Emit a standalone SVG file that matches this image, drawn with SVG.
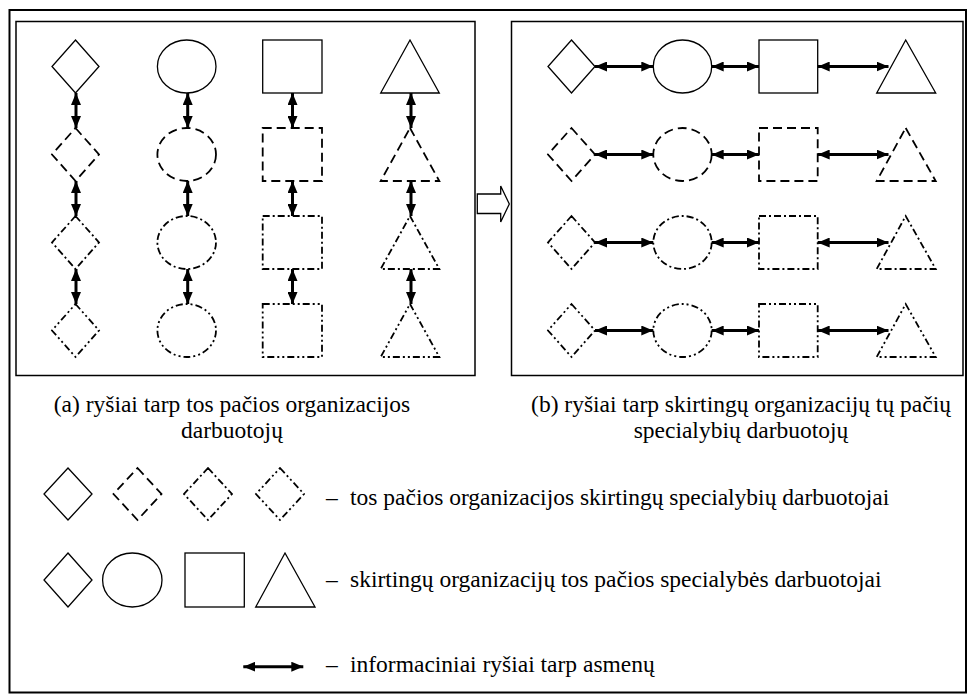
<svg xmlns="http://www.w3.org/2000/svg" width="972" height="696" viewBox="0 0 972 696">
<defs>
<style>
.outer{fill:none;stroke:#000;stroke-width:2}
.frame{fill:none;stroke:#000;stroke-width:1.5}
.s{fill:#fff;stroke:#000;stroke-width:1.3}
.d2{stroke-width:1.8;stroke-dasharray:9 5}
.d3{stroke-width:1.8;stroke-dasharray:7 3 2 3}
.d4{stroke-width:1.8;stroke-dasharray:7 3 2 3 2 3}
.c{stroke:#000;stroke-width:3;fill:none;marker-start:url(#ah);marker-end:url(#ah)}
.big{fill:#fff;stroke:#000;stroke-width:1.3}
text{font-family:"Liberation Serif","Times New Roman",serif;font-size:23.5px;fill:#000}
</style>
<marker id="ah" markerUnits="userSpaceOnUse" markerWidth="12" markerHeight="10" refX="12" refY="5" orient="auto-start-reverse" viewBox="0 0 12 10"><path d="M0,0 L12,5 L0,10 z" fill="#000"/></marker>
</defs>
<rect width="972" height="696" fill="#fff"/>
<rect class="outer" x="9.5" y="10" width="956.5" height="682.5"/>
<rect id="panel-a" class="frame" x="16" y="21.5" width="459" height="354"/>
<rect id="panel-b" class="frame" x="511.5" y="21.5" width="451.5" height="354"/>

<g id="transition-arrow"><polygon class="big" points="477.3,194 500.7,194 500.7,186 509.3,204 500.7,222 500.7,213.5 477.3,213.5"/></g>

<!-- Panel A nodes -->
<g id="a-diamond-1"><polygon class="s" points="75.5,40 99,66.5 75.5,93 52,66.5"/></g>
<g id="a-diamond-2"><polygon class="s d2" points="75.5,128 99,154.5 75.5,181 52,154.5"/></g>
<g id="a-diamond-3"><polygon class="s d3" points="75.5,216 99,242.5 75.5,269 52,242.5"/></g>
<g id="a-diamond-4"><polygon class="s d4" points="75.5,304 99,330.5 75.5,357 52,330.5"/></g>
<g id="a-ellipse-1"><ellipse class="s" cx="186.7" cy="66.5" rx="29.3" ry="26.5"/></g>
<g id="a-ellipse-2"><ellipse class="s d2" cx="186.7" cy="154.5" rx="29.3" ry="26.5"/></g>
<g id="a-ellipse-3"><ellipse class="s d3" cx="186.7" cy="242.5" rx="29.3" ry="26.5"/></g>
<g id="a-ellipse-4"><ellipse class="s d4" cx="186.7" cy="330.5" rx="29.3" ry="26.5"/></g>
<g id="a-square-1"><rect class="s" x="262.7" y="40" width="59.3" height="53"/></g>
<g id="a-square-2"><rect class="s d2" x="262.7" y="128" width="59.3" height="53"/></g>
<g id="a-square-3"><rect class="s d3" x="262.7" y="216" width="59.3" height="53"/></g>
<g id="a-square-4"><rect class="s d4" x="262.7" y="304" width="59.3" height="53"/></g>
<g id="a-triangle-1"><polygon class="s" points="410,40 439.3,93 380.7,93"/></g>
<g id="a-triangle-2"><polygon class="s d2" points="410,128 439.3,181 380.7,181"/></g>
<g id="a-triangle-3"><polygon class="s d3" points="410,216 439.3,269 380.7,269"/></g>
<g id="a-triangle-4"><polygon class="s d4" points="410,304 439.3,357 380.7,357"/></g>

<!-- Panel B nodes -->
<g id="b-diamond-1"><polygon class="s" points="571.5,40 595,66.5 571.5,93 548,66.5"/></g>
<g id="b-diamond-2"><polygon class="s d2" points="571.5,128 595,154.5 571.5,181 548,154.5"/></g>
<g id="b-diamond-3"><polygon class="s d3" points="571.5,216 595,242.5 571.5,269 548,242.5"/></g>
<g id="b-diamond-4"><polygon class="s d4" points="571.5,304 595,330.5 571.5,357 548,330.5"/></g>
<g id="b-ellipse-1"><ellipse class="s" cx="682.5" cy="66.5" rx="29.2" ry="26.5"/></g>
<g id="b-ellipse-2"><ellipse class="s d2" cx="682.5" cy="154.5" rx="29.2" ry="26.5"/></g>
<g id="b-ellipse-3"><ellipse class="s d3" cx="682.5" cy="242.5" rx="29.2" ry="26.5"/></g>
<g id="b-ellipse-4"><ellipse class="s d4" cx="682.5" cy="330.5" rx="29.2" ry="26.5"/></g>
<g id="b-square-1"><rect class="s" x="759" y="40" width="58.7" height="53"/></g>
<g id="b-square-2"><rect class="s d2" x="759" y="128" width="58.7" height="53"/></g>
<g id="b-square-3"><rect class="s d3" x="759" y="216" width="58.7" height="53"/></g>
<g id="b-square-4"><rect class="s d4" x="759" y="304" width="58.7" height="53"/></g>
<g id="b-triangle-1"><polygon class="s" points="905.7,40 935.7,93 876.7,93"/></g>
<g id="b-triangle-2"><polygon class="s d2" points="905.7,128 935.7,181 876.7,181"/></g>
<g id="b-triangle-3"><polygon class="s d3" points="905.7,216 935.7,269 876.7,269"/></g>
<g id="b-triangle-4"><polygon class="s d4" points="905.7,304 935.7,357 876.7,357"/></g>

<!-- Connectors -->
<g id="connectors">
<line class="c" x1="76" y1="93" x2="76" y2="128"/>
<line class="c" x1="76" y1="181" x2="76" y2="216"/>
<line class="c" x1="76" y1="269" x2="76" y2="304"/>
<line class="c" x1="187.7" y1="93" x2="187.7" y2="128"/>
<line class="c" x1="187.7" y1="181" x2="187.7" y2="216"/>
<line class="c" x1="187.7" y1="269" x2="187.7" y2="304"/>
<line class="c" x1="292.5" y1="93" x2="292.5" y2="128"/>
<line class="c" x1="292.5" y1="181" x2="292.5" y2="216"/>
<line class="c" x1="292.5" y1="269" x2="292.5" y2="304"/>
<line class="c" x1="411" y1="93" x2="411" y2="128"/>
<line class="c" x1="411" y1="181" x2="411" y2="216"/>
<line class="c" x1="411" y1="269" x2="411" y2="304"/>

<line class="c" x1="595" y1="66.5" x2="653.3" y2="66.5"/>
<line class="c" x1="711.7" y1="66.5" x2="759" y2="66.5"/>
<line class="c" x1="817.7" y1="66.5" x2="888.5" y2="66.5"/>
<line class="c" x1="595" y1="154.5" x2="653.3" y2="154.5"/>
<line class="c" x1="711.7" y1="154.5" x2="759" y2="154.5"/>
<line class="c" x1="817.7" y1="154.5" x2="888.5" y2="154.5"/>
<line class="c" x1="595" y1="242.5" x2="653.3" y2="242.5"/>
<line class="c" x1="711.7" y1="242.5" x2="759" y2="242.5"/>
<line class="c" x1="817.7" y1="242.5" x2="888.5" y2="242.5"/>
<line class="c" x1="595" y1="330.5" x2="653.3" y2="330.5"/>
<line class="c" x1="711.7" y1="330.5" x2="759" y2="330.5"/>
<line class="c" x1="817.7" y1="330.5" x2="888.5" y2="330.5"/>
</g>

<!-- Captions -->
<text x="232" y="412" text-anchor="middle">(a) ryšiai tarp tos pačios organizacijos</text>
<text x="232" y="438" text-anchor="middle">darbuotojų</text>
<text x="741" y="412" text-anchor="middle">(b) ryšiai tarp skirtingų organizacijų tų pačių</text>
<text x="741" y="438" text-anchor="middle">specialybių darbuotojų</text>

<!-- Legend -->
<g id="legend-diamond-solid"><polygon class="s" points="68,468 92,494 68,520 44,494"/></g>
<g id="legend-diamond-dashed"><polygon class="s d2" points="137.5,468 161.5,494 137.5,520 113.5,494"/></g>
<g id="legend-diamond-dashdot"><polygon class="s d3" points="208,468 232,494 208,520 184,494"/></g>
<g id="legend-diamond-dashdotdot"><polygon class="s d4" points="280,468 304,494 280,520 256,494"/></g>
<text id="legend-text-1" y="505"><tspan x="326">–</tspan><tspan x="350">tos pačios organizacijos skirtingų specialybių darbuotojai</tspan></text>

<g id="legend-diamond"><polygon class="s" points="68,553 92,580 68,607 44,580"/></g>
<g id="legend-ellipse"><ellipse class="s" cx="132.3" cy="580" rx="29.7" ry="27"/></g>
<g id="legend-square"><rect class="s" x="185" y="553" width="59.3" height="54"/></g>
<g id="legend-triangle"><polygon class="s" points="285,553 315,607 255.7,607"/></g>
<text id="legend-text-2" y="587"><tspan x="326">–</tspan><tspan x="350">skirtingų organizacijų tos pačios specialybės darbuotojai</tspan></text>

<g id="legend-arrow"><line class="c" x1="243.3" y1="666.7" x2="303.3" y2="666.7"/></g>
<text id="legend-text-3" y="672"><tspan x="326">–</tspan><tspan x="350">informaciniai ryšiai tarp asmenų</tspan></text>
</svg>
